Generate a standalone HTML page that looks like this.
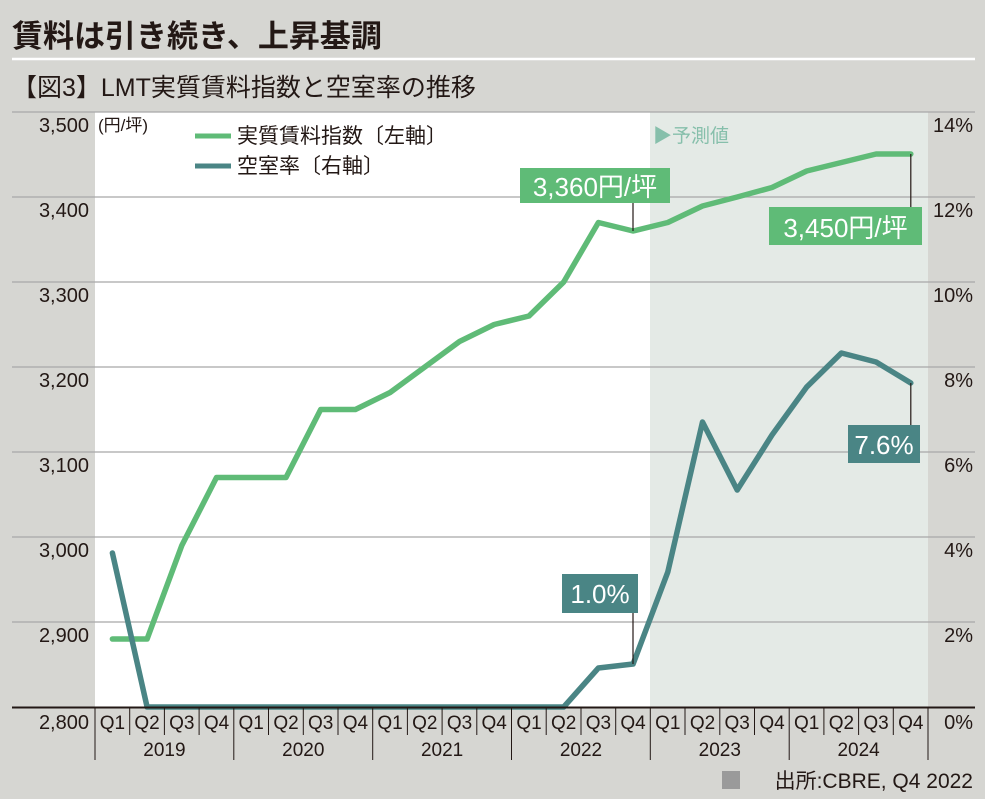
<!DOCTYPE html><html><head><meta charset="utf-8"><style>
body{margin:0;background:#d6d6d2;}
svg{display:block;font-family:"Liberation Sans","Noto Sans CJK JP",sans-serif;}
</style></head><body>
<svg width="985" height="799" viewBox="0 0 985 799">
<rect width="985" height="799" fill="#d6d6d2"/>
<text x="12" y="47" font-size="31" font-weight="bold" fill="#231815">賃料は引き続き、上昇基調</text>
<line x1="12" y1="59" x2="975" y2="59" stroke="#fff" stroke-width="2.5"/>
<text x="12" y="96" font-size="25" fill="#231815">【図3】LMT実質賃料指数と空室率の推移</text>
<rect x="95" y="112" width="555" height="595" fill="#fff"/>
<rect x="650" y="112" width="278" height="595" fill="#e4eae6"/>
<g stroke="#a8a8a8" stroke-width="1.3">
<line x1="12" y1="112" x2="975" y2="112"/><line x1="12" y1="197" x2="975" y2="197"/><line x1="12" y1="282" x2="975" y2="282"/><line x1="12" y1="367" x2="975" y2="367"/><line x1="12" y1="452" x2="975" y2="452"/><line x1="12" y1="537" x2="975" y2="537"/><line x1="12" y1="622" x2="975" y2="622"/>
</g>
<g font-size="20" fill="#231815" text-anchor="end">
<text x="89" y="132">3,500</text><text x="89" y="217">3,400</text><text x="89" y="302">3,300</text><text x="89" y="387">3,200</text><text x="89" y="472">3,100</text><text x="89" y="557">3,000</text><text x="89" y="642">2,900</text><text x="89" y="729">2,800</text>
<text x="973" y="132">14%</text><text x="973" y="217">12%</text><text x="973" y="302">10%</text><text x="973" y="387">8%</text><text x="973" y="472">6%</text><text x="973" y="557">4%</text><text x="973" y="642">2%</text><text x="973" y="729">0%</text>
</g>
<text x="98" y="131" font-size="17" fill="#231815">(円/坪)</text>
<line x1="195" y1="136" x2="231" y2="136" stroke="#5fbb77" stroke-width="5"/>
<text x="237" y="143" font-size="21" fill="#231815">実質賃料指数〔左軸〕</text>
<line x1="195" y1="166" x2="231" y2="166" stroke="#4a8585" stroke-width="5"/>
<text x="237" y="173" font-size="21" fill="#231815">空室率〔右軸〕</text>
<text x="653" y="142" font-size="19" fill="#86bfab">▶予測値</text>
<polyline fill="none" stroke="#5fbb77" stroke-width="5.5" stroke-linejoin="round" stroke-linecap="round" points="112.4,639 147.1,639 181.8,545.5 216.5,477.5 251.2,477.5 286,477.5 320.7,409.5 355.4,409.5 390.1,392.5 424.8,367 459.5,341.5 494.2,324.5 529,316 563.7,282 598.4,222.5 633.1,231 667.8,222.5 702.5,206 737.2,197 772,187.5 806.7,171 841.4,162.5 876.1,154 910.8,154"/>
<polyline fill="none" stroke="#4a8585" stroke-width="5.5" stroke-linejoin="round" stroke-linecap="round" points="112.4,553 147.1,707 181.8,707 216.5,707 251.2,707 286,707 320.7,707 355.4,707 390.1,707 424.8,707 459.5,707 494.2,707 529,707 563.7,707 598.4,668 633.1,664 667.8,572 702.5,422 737.2,490 772,435 806.7,387 841.4,353 876.1,362 910.8,383"/>
<line x1="12" y1="707.5" x2="975" y2="707.5" stroke="#231815" stroke-width="2"/>
<g stroke="#231815" stroke-width="1.2">
<line x1="633" y1="203" x2="633" y2="231"/><line x1="910.8" y1="154" x2="910.8" y2="208"/>
<line x1="633" y1="612" x2="633" y2="664"/><line x1="910.8" y1="383" x2="910.8" y2="425"/>
</g>
<rect x="520" y="168" width="150" height="35" fill="#5fbb77"/>
<text x="595" y="196" font-size="26" fill="#fff" text-anchor="middle">3,360円/坪</text>
<rect x="769" y="207" width="153" height="38" fill="#5fbb77"/>
<text x="845.5" y="237" font-size="26" fill="#fff" text-anchor="middle">3,450円/坪</text>
<rect x="562" y="574" width="76" height="39" fill="#4a8585"/>
<text x="600" y="603" font-size="26" fill="#fff" text-anchor="middle">1.0%</text>
<rect x="848" y="425" width="72" height="38" fill="#4a8585"/>
<text x="884" y="454" font-size="26" fill="#fff" text-anchor="middle">7.6%</text>
<g stroke="#231815" stroke-width="1">
<line x1="95" y1="707" x2="95" y2="760"/><line x1="233.8" y1="707" x2="233.8" y2="760"/><line x1="372.7" y1="707" x2="372.7" y2="760"/><line x1="511.5" y1="707" x2="511.5" y2="760"/><line x1="650.3" y1="707" x2="650.3" y2="760"/><line x1="789.2" y1="707" x2="789.2" y2="760"/><line x1="928" y1="707" x2="928" y2="760"/>
<line x1="129.7" y1="707" x2="129.7" y2="735"/><line x1="164.4" y1="707" x2="164.4" y2="735"/><line x1="199.1" y1="707" x2="199.1" y2="735"/>
<line x1="268.5" y1="707" x2="268.5" y2="735"/><line x1="303.3" y1="707" x2="303.3" y2="735"/><line x1="338" y1="707" x2="338" y2="735"/>
<line x1="407.4" y1="707" x2="407.4" y2="735"/><line x1="442.1" y1="707" x2="442.1" y2="735"/><line x1="476.8" y1="707" x2="476.8" y2="735"/>
<line x1="546.2" y1="707" x2="546.2" y2="735"/><line x1="581" y1="707" x2="581" y2="735"/><line x1="615.7" y1="707" x2="615.7" y2="735"/>
<line x1="685" y1="707" x2="685" y2="735"/><line x1="719.8" y1="707" x2="719.8" y2="735"/><line x1="754.5" y1="707" x2="754.5" y2="735"/>
<line x1="823.9" y1="707" x2="823.9" y2="735"/><line x1="858.6" y1="707" x2="858.6" y2="735"/><line x1="893.3" y1="707" x2="893.3" y2="735"/>
</g>
<g font-size="19" fill="#231815" text-anchor="middle">
<text x="112.4" y="729">Q1</text><text x="147.1" y="729">Q2</text><text x="181.8" y="729">Q3</text><text x="216.5" y="729">Q4</text>
<text x="251.2" y="729">Q1</text><text x="286" y="729">Q2</text><text x="320.7" y="729">Q3</text><text x="355.4" y="729">Q4</text>
<text x="390.1" y="729">Q1</text><text x="424.8" y="729">Q2</text><text x="459.5" y="729">Q3</text><text x="494.2" y="729">Q4</text>
<text x="529" y="729">Q1</text><text x="563.7" y="729">Q2</text><text x="598.4" y="729">Q3</text><text x="633.1" y="729">Q4</text>
<text x="667.8" y="729">Q1</text><text x="702.5" y="729">Q2</text><text x="737.2" y="729">Q3</text><text x="772" y="729">Q4</text>
<text x="806.7" y="729">Q1</text><text x="841.4" y="729">Q2</text><text x="876.1" y="729">Q3</text><text x="910.8" y="729">Q4</text>
<text x="164.4" y="756">2019</text><text x="303.3" y="756">2020</text><text x="442.1" y="756">2021</text><text x="581" y="756">2022</text><text x="719.8" y="756">2023</text><text x="858.6" y="756">2024</text>
</g>
<rect x="722" y="771" width="18" height="18" fill="#9a9a9a"/>
<text x="973" y="788" font-size="21" fill="#231815" text-anchor="end">出所:CBRE, Q4 2022</text>
</svg>
</body></html>
